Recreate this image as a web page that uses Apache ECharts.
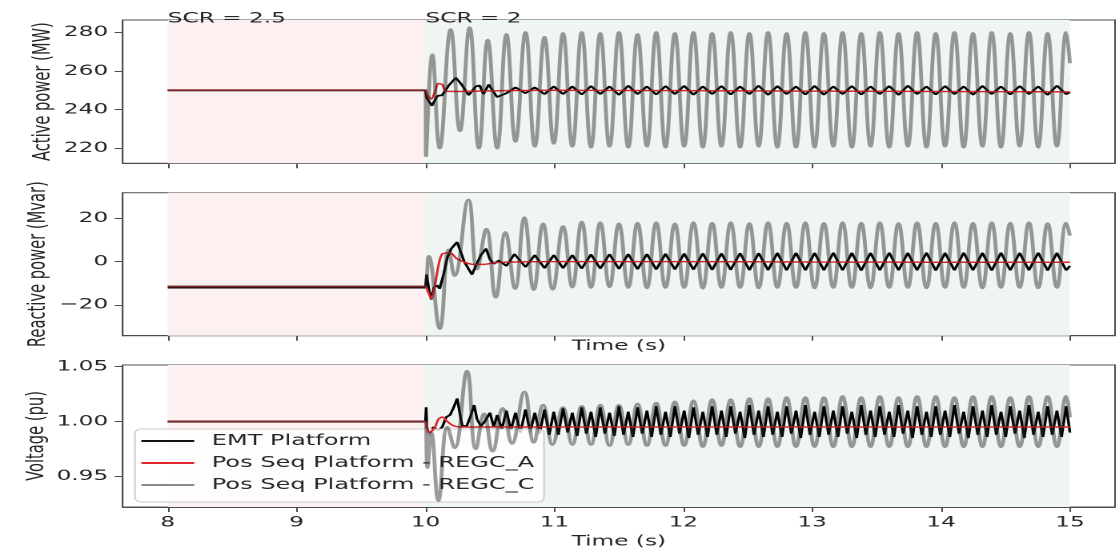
<!DOCTYPE html>
<html>
<head>
<meta charset="utf-8">
<script src="https://cdn.jsdelivr.net/npm/echarts@6/dist/echarts.min.js"></script>
<style>
  html, body { margin: 0; padding: 0; background: #fff; overflow: hidden; }
  #wrap { width: 1119px; height: 550px; overflow: hidden; }
  /* the figure is drawn narrow and widened, giving its wide lettering */
  #chart { width: 699px; height: 550px; transform: scaleX(1.6009); transform-origin: 0 0; }
</style>
</head>
<body>
<div id="wrap"><div id="chart"></div></div>
<script>
// ---- axis ticks ----
const xTicks = [8, 9, 10, 11, 12, 13, 14, 15];
const pTicks = [220, 240, 260, 280];
const qTicks = [-20, 0, 20];
const vTicks = [0.95, 1.00, 1.05];

const seriesNames = ['EMT Platform', 'Pos Seq Platform - REGC_A', 'Pos Seq Platform - REGC_C'];
const zoneLabels = ['SCR = 2.5', 'SCR = 2'];
const zoneBounds = [8, 10, 15];

// times of the alternating extremes once the oscillation has settled (s)
const tSteady = [11.067,11.139,11.212,11.284,11.356,11.428,11.501,11.573,11.645,11.718,
  11.790,11.862,11.935,12.007,12.079,12.152,12.224,12.296,12.368,12.441,
  12.513,12.585,12.658,12.730,12.802,12.875,12.947,13.019,13.091,13.164,
  13.236,13.308,13.381,13.453,13.525,13.598,13.670,13.742,13.814,13.887,
  13.959,14.031,14.104,14.176,14.248,14.321,14.393,14.465,14.537,14.610,
  14.682,14.754,14.827,14.899,14.971];

// the EMT voltage swings twice as often: times of its extremes (s)
const tEmtV = [11.067,11.103,11.139,11.176,11.212,11.248,11.284,11.320,11.356,11.392,
  11.428,11.465,11.501,11.537,11.573,11.609,11.645,11.682,11.718,11.754,
  11.790,11.826,11.862,11.899,11.935,11.971,12.007,12.043,12.079,12.116,
  12.152,12.188,12.224,12.260,12.296,12.332,12.368,12.405,12.441,12.477,
  12.513,12.549,12.585,12.622,12.658,12.694,12.730,12.766,12.802,12.839,
  12.875,12.911,12.947,12.983,13.019,13.055,13.091,13.128,13.164,13.200,
  13.236,13.272,13.308,13.345,13.381,13.417,13.453,13.489,13.525,13.562,
  13.598,13.634,13.670,13.706,13.742,13.778,13.814,13.851,13.887,13.923,
  13.959,13.995,14.031,14.068,14.104,14.140,14.176,14.212,14.248,14.285,
  14.321,14.357,14.393,14.429,14.465,14.501,14.537,14.574,14.610,14.646,
  14.682,14.718,14.754,14.791,14.827,14.863,14.899,14.935,14.971];

// ---- Active power (MW) ----
const emtP_head = [[8,250],[10,250],[10.01,246],[10.05,242],[10.09,247],[10.13,247.5],[10.18,252.5],
  [10.235,256.5],[10.28,253],[10.335,247.5],[10.39,252],[10.42,252.5],[10.45,248],[10.49,253],
  [10.52,250],[10.555,246.5],[10.628,248.5],[10.698,251.5],[10.776,248.5],[10.848,251.5],[10.923,248],[10.995,252]];
const emtP_steady = [248,252,247.8,252.2,248,252,247.6,252.4,248,252,247.8,252.2,248,252.3,247.7,252,
  248,252.2,247.8,252,248,252.4,247.6,252.2,248,252,247.8,252.3,247.7,252,248,252.2,247.8,252,
  248,252.2,247.6,252.4,248,252,247.8,252.2,248,252,247.7,252.3,248,252,247.8,252.2,248,252,247.6,252.4,248];
const emtP_tail = [[15,249]];

const regcAP = [[8,250],[9.99,250],[10,250],[10.02,247],[10.045,245.5],[10.075,249.5],[10.1,253.5],
  [10.13,253],[10.16,249.5],[10.25,249.4],[10.5,249.7],[11,250],[12,249.8],[13,249.6],[14,249.4],[15,249.2]];

const regcCP_head = [[8,250],[9.99,250],[10,250],[10.004,216],[10.053,268.5],[10.11,220],[10.195,281.5],
  [10.267,229],[10.342,282.5],[10.414,220],[10.483,276],[10.556,220],[10.628,279],[10.698,223.5],
  [10.776,280],[10.848,221],[10.923,277.5],[10.995,222.5]];
const regcCP_steady = [279.5,221,280,220.5,279.5,221,280,220.5,279,221,280,220.5,279.5,221,280,220.5,
  279.5,221,280,220.5,279.5,221,280,220.5,279.5,220.5,280,220.5,279.5,221,280,220.5,279.5,221,280,220.5,
  279.5,221,280,220.5,279.5,221,280,220.5,279.5,221,280,220.5,279.5,221,280,220.5,279.5,221,280];
const regcCP_tail = [[15,264]];

// ---- Reactive power (Mvar) ----
const emtQ_head = [[8,-12],[10,-12],[10.008,-6],[10.03,-14],[10.045,-17.5],[10.065,-12],[10.09,-11],
  [10.11,-12.5],[10.14,-6],[10.17,2],[10.2,6],[10.245,9],[10.27,5],[10.3,0],[10.33,-3],[10.36,-6],
  [10.39,-2],[10.43,3],[10.47,6],[10.5,1],[10.53,-1],[10.57,0.5],[10.628,-2],[10.69,3.5],[10.776,-2.5],
  [10.848,3],[10.923,-3],[10.995,3]];
const emtQ_steady = [-3,3,-3.2,3.3,-3.2,3.4,-3.4,3.5,-3.5,3.5,-3.6,3.6,-3.6,3.7,-3.7,3.8,-3.8,3.8,
  -3.8,3.9,-3.9,3.9,-3.9,4,-4,4,-4,4,-4,4.1,-4,4,-4.1,4,-4,4.1,-4,4,-4,4.1,-4.1,4,-4,4.1,-4,4,
  -4.1,4.1,-4,4,-4,4.1,-4.1,4,-4];
const emtQ_tail = [[15,-2]];

const regcAQ = [[8,-11.5],[9.99,-11.5],[10,-11.5],[10.02,-14],[10.045,-17],[10.07,-12],[10.1,-2],
  [10.13,3.5],[10.19,4],[10.24,1.5],[10.29,0],[10.36,-1.2],[10.45,-1.3],[10.55,-0.4],[11,0],
  [12,0],[13,-0.2],[14,-0.3],[15,-0.3]];

const regcCQ_head = [[8,-11.5],[9.99,-11.5],[10,-11.5],[10.026,2.5],[10.111,-31],[10.18,5.5],
  [10.225,-6.5],[10.333,28.5],[10.4,-3.5],[10.472,15],[10.545,-16.5],[10.62,13.5],[10.695,-12.5],
  [10.767,20.3],[10.84,-13],[10.912,17.5],[10.987,-12.8]];
const regcCQ_steady = [16.2,-11.8,18.3,-12,18,-11.7,17.5,-12,17.8,-12.2,18,-12,17.5,-12,18,-12.3,
  17.8,-12,18,-12,17.6,-12.2,18,-12,17.8,-12,18,-12.2,17.7,-12,18,-12,17.8,-12.2,18,-12,17.6,-12,
  18,-12.2,17.8,-12,18,-12,17.7,-12.2,18,-12,17.8,-12,18,-12.2,17.6,-12,17.8];
const regcCQ_tail = [[15,12]];

// ---- Voltage (pu) ----
const emtV_head = [[8,1.0],[10,1.0],[10.005,1.013],[10.012,0.99],[10.03,0.987],[10.06,0.995],
  [10.1,0.992],[10.13,0.995],[10.16,1.004],[10.19,1.006],[10.215,1.012],[10.246,1.021],[10.27,1.005],
  [10.285,0.996],[10.32,0.996],[10.35,1.005],[10.377,1.015],[10.4,1.002],[10.43,0.996],[10.46,1.0],
  [10.5,1.008],[10.53,0.995],[10.556,1.006],[10.592,0.993],[10.628,1.01],[10.662,0.992],[10.698,1.008],
  [10.737,0.99],[10.776,1.011],[10.812,0.99],[10.848,1.008],[10.885,0.989],[10.923,1.011],[10.96,0.988],
  [10.995,1.009],[11.03,0.988]];
const emtV_steady = [1.012,0.99,1.008,0.987, 1.013,0.989,1.009,0.986, 1.013,0.989,1.008,0.987,
  1.014,0.988,1.009,0.986, 1.013,0.989,1.01,0.986, 1.014,0.988,1.009,0.986, 1.014,0.989,1.01,0.985,
  1.013,0.988,1.009,0.986, 1.014,0.988,1.01,0.986, 1.014,0.989,1.009,0.985, 1.015,0.988,1.01,0.986,
  1.014,0.988,1.009,0.986, 1.014,0.989,1.01,0.985, 1.015,0.988,1.009,0.986, 1.014,0.988,1.01,0.986,
  1.014,0.989,1.009,0.985, 1.015,0.988,1.01,0.986, 1.014,0.988,1.009,0.986, 1.015,0.989,1.01,0.985,
  1.014,0.988,1.009,0.986, 1.014,0.988,1.01,0.986, 1.015,0.989,1.009,0.985, 1.014,0.988,1.01,0.986,
  1.015,0.988,1.009,0.986, 1.014,0.989,1.01,0.985, 1.015,0.988,1.009,0.986, 1.014,0.988,1.01,0.986,
  1.014];
const emtV_tail = [[15,0.99]];

const regcAV = [[8,1.0],[9.99,1.0],[10,1.0],[10.03,0.99],[10.07,0.994],[10.1,1.002],[10.13,1.004],
  [10.17,1.0],[10.22,0.996],[10.3,0.995],[11,0.995],[13,0.995],[15,0.995]];

const regcCV_head = [[8,1.0],[9.99,1.0],[10,1.0],[10.015,0.958],[10.045,0.99],[10.1,0.928],
  [10.17,0.995],[10.225,0.976],[10.322,1.046],[10.39,0.975],[10.455,1.007],[10.52,0.973],[10.6,1.012],
  [10.67,0.98],[10.768,1.027],[10.84,0.981],[10.912,1.015],[10.985,0.979]];
const regcCV_steady = [1.013,0.979,1.014,0.979,1.015,0.978,1.015,0.979,1.016,0.978,1.017,0.978,
  1.018,0.978,1.019,0.977,1.02,0.978,1.02,0.977,1.021,0.977,1.021,0.977,1.022,0.977,1.022,0.977,
  1.022,0.977,1.023,0.977,1.022,0.977,1.023,0.977,1.022,0.977,1.023,0.977,1.023,0.977,1.022,0.977,
  1.023,0.977,1.023,0.977,1.022,0.977,1.023,0.977,1.023,0.977,1.023];
const regcCV_tail = [[15,1.004]];

// joins a transient, the settled extremes and the closing point into [t, value] pairs
function joinTrace(head, times, steady, tail) {
  const n = Math.min(times.length, steady.length);
  const mid = [];
  for (let i = 0; i < n; i++) mid.push([times[i], steady[i]]);
  return head.concat(mid, tail);
}

const FONT = 'DejaVu Sans';
const TXT = '#262626';
const FRAME = '#4d4d4d';
const COL_EMT = '#000000';
const COL_A = '#e0242b';
const COL_C = 'rgba(40,40,40,0.46)';
const PINK = '#fdf0f0';
const GREEN = '#eff6f1';

const grids = [
  { top: 20, height: 143.3 },
  { top: 192.7, height: 143 },
  { top: 365, height: 142.3 }
];

const yDefs = [
  { min: 212.2, max: 286.4, ticks: pTicks, name: 'Active power (MW)', gap: 42,
    fmt: v => String(v) },
  { min: -34.2, max: 31.8, ticks: qTicks, name: 'Reactive power (Mvar)', gap: 45,
    fmt: v => (v < 0 ? '\u2212' + Math.abs(v) : String(v)) },
  { min: 0.9222, max: 1.0515, ticks: vTicks, name: 'Voltage (pu)', gap: 46,
    fmt: v => v.toFixed(2) }
];

const traces = [
  [joinTrace(emtP_head, tSteady, emtP_steady, emtP_tail), regcAP,
   joinTrace(regcCP_head, tSteady, regcCP_steady, regcCP_tail)],
  [joinTrace(emtQ_head, tSteady, emtQ_steady, emtQ_tail), regcAQ,
   joinTrace(regcCQ_head, tSteady, regcCQ_steady, regcCQ_tail)],
  [joinTrace(emtV_head, tEmtV, emtV_steady, emtV_tail), regcAV,
   joinTrace(regcCV_head, tSteady, regcCV_steady, regcCV_tail)]
];

const tickStyle = { show: true, inside: false, length: 5, lineStyle: { color: FRAME, width: 1 } };

const xAxes = grids.map((g, i) => ({
  type: 'value', gridIndex: i, min: 7.65, max: 15.35,
  axisLine: { show: true, onZero: false, lineStyle: { color: FRAME, width: 1 } },
  axisTick: Object.assign({ customValues: xTicks }, tickStyle),
  axisLabel: { show: i === 2, customValues: xTicks, margin: 8, fontFamily: FONT, fontSize: 14.5, color: TXT },
  splitLine: { show: false },
  name: i === 0 ? '' : 'Time (s)',
  nameLocation: 'middle',
  nameGap: i === 1 ? 3 : 27,
  nameMoveOverlap: false,
  nameTextStyle: { fontFamily: FONT, fontSize: 14.5, color: TXT }
}));

const yAxes = yDefs.map((d, i) => ({
  type: 'value', gridIndex: i, min: d.min, max: d.max,
  axisLine: { show: true, onZero: false, lineStyle: { color: FRAME, width: 1 } },
  axisTick: Object.assign({ customValues: d.ticks }, tickStyle),
  axisLabel: { customValues: d.ticks, formatter: d.fmt, margin: 9, fontFamily: FONT, fontSize: 14.5, color: TXT },
  splitLine: { show: false },
  name: d.name, nameLocation: 'middle', nameRotate: 90, nameGap: d.gap,
  nameMoveOverlap: false,
  nameTextStyle: { fontFamily: FONT, fontSize: 14.7, color: TXT }
}));

function zoneArea(withLabels) {
  const lab = (txt) => withLabels ? {
    show: true, formatter: txt, position: [0, 6], align: 'left', verticalAlign: 'bottom',
    fontFamily: FONT, fontSize: 14.5, color: TXT
  } : { show: false };
  return {
    silent: true,
    data: [
      [{ xAxis: zoneBounds[0], itemStyle: { color: PINK }, label: lab(zoneLabels[0]) }, { xAxis: zoneBounds[1] }],
      [{ xAxis: zoneBounds[1], itemStyle: { color: GREEN }, label: lab(zoneLabels[1]) }, { xAxis: zoneBounds[2] }]
    ]
  };
}

const styles = [
  { color: COL_EMT, width: 1.7, smooth: false, z: 3 },
  { color: COL_A, width: 1.5, smooth: 0.3, z: 4 },
  { color: COL_C, width: 2.4, smooth: 0.45, z: 5 }
];

const series = [];
traces.forEach((set, i) => {
  set.forEach((data, k) => {
    const st = styles[k];
    const s = {
      type: 'line', name: seriesNames[k], xAxisIndex: i, yAxisIndex: i, data: data,
      symbol: 'none', smooth: st.smooth, z: st.z,
      lineStyle: { color: st.color, width: st.width }, itemStyle: { color: st.color }
    };
    if (k === 0) s.markArea = zoneArea(i === 0);
    series.push(s);
  });
});

const chart = echarts.init(document.getElementById('chart'), null, { devicePixelRatio: 2 });
chart.setOption({
  animation: false,
  backgroundColor: '#ffffff',
  grid: grids.map(g => ({
    left: 76.6, right: 2.5, top: g.top, height: g.height,
    show: true, borderColor: FRAME, borderWidth: 1, backgroundColor: 'transparent'
  })),
  xAxis: xAxes,
  yAxis: yAxes,
  legend: {
    data: [
      { name: seriesNames[0], icon: 'rect', itemStyle: { color: '#111111' } },
      { name: seriesNames[1], icon: 'rect', itemStyle: { color: COL_A } },
      { name: seriesNames[2], icon: 'rect', itemStyle: { color: '#8a8a8a' } }
    ],
    orient: 'vertical', left: 84.3, top: 429,
    itemWidth: 33, itemHeight: 2, itemGap: 6, padding: [4, 6, 9, 4],
    backgroundColor: 'rgba(255,255,255,0.8)', borderColor: '#cccccc', borderWidth: 1, borderRadius: 4,
    textStyle: { fontFamily: FONT, fontSize: 15, color: TXT, padding: [0, 0, 0, 6], lineHeight: 16 }
  },
  series: series
});
</script>
</body>
</html>
